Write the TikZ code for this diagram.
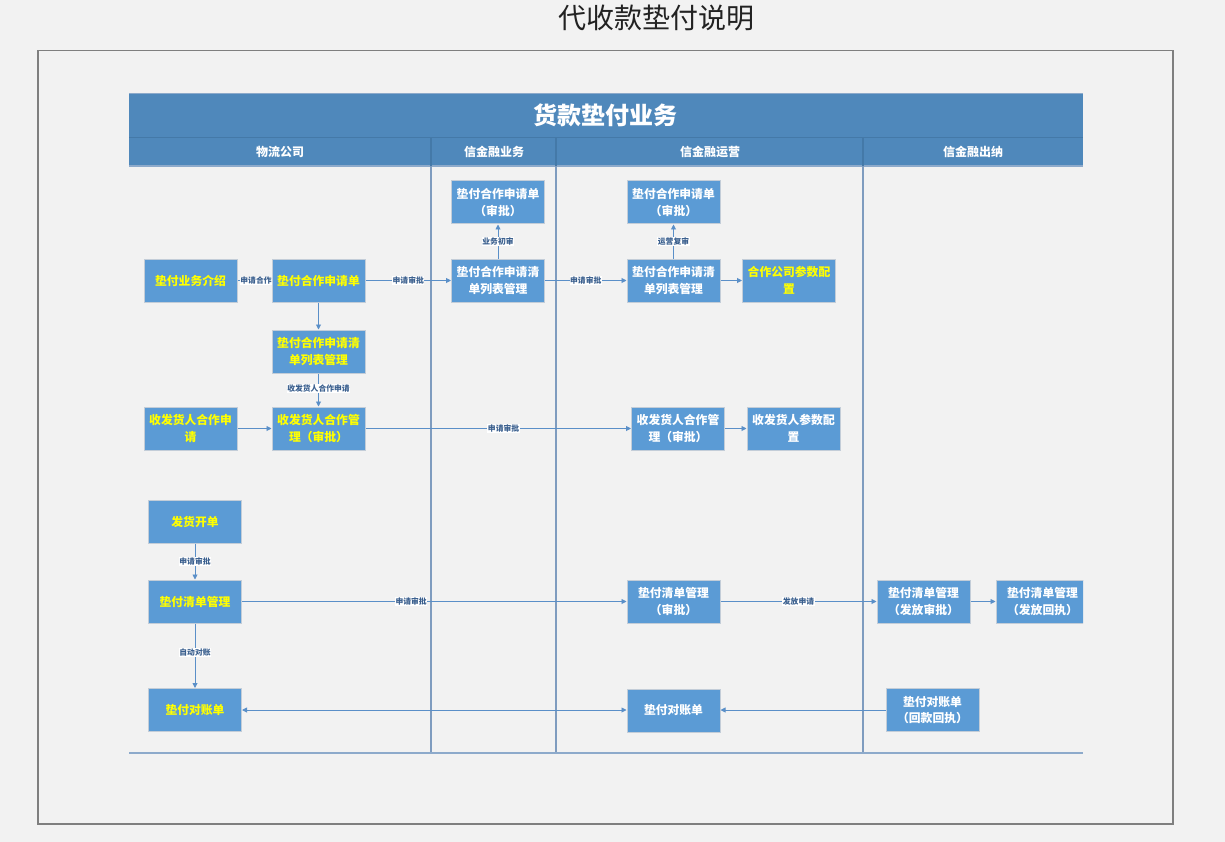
\documentclass[tikz,border=0pt]{standalone}
\usepackage{fontspec}
\newfontfamily\cjk{Noto Sans CJK SC}
\usetikzlibrary{arrows.meta}
\definecolor{bg}{HTML}{F2F2F2}
\definecolor{hdr}{HTML}{4F88BB}
\definecolor{hdrline}{HTML}{4479A8}
\definecolor{hdredge}{HTML}{8DAACB}
\definecolor{boxc}{HTML}{5B9BD5}
\definecolor{boxb}{HTML}{C3CDD8}
\definecolor{lane}{HTML}{7F9CBF}
\definecolor{arr}{HTML}{5A8FC8}
\definecolor{lbl}{HTML}{3A5F8E}
\definecolor{ylw}{HTML}{FFFF00}
\definecolor{frame}{HTML}{7F7F7F}
\definecolor{ttl}{HTML}{222222}
\tikzset{
 box/.style={draw=boxb, fill=boxc, line width=1pt, minimum width=93pt, minimum height=43pt, inner sep=1pt, align=center, font=\cjk\bfseries\fontsize{11.8}{16.5}\selectfont, text=white},
 ybox/.style={box, text=ylw},
 flow/.style={draw=arr, line width=0.9pt, -{Triangle[length=5pt,width=5pt]}},
 biflow/.style={draw=arr, line width=0.9pt, {Triangle[length=5pt,width=5pt]}-{Triangle[length=5pt,width=5pt]}},
 lab/.style={fill=white, inner sep=0.6pt, font=\cjk\bfseries\fontsize{7.8}{8}\selectfont, text=lbl},
 lanel/.style={draw=lane, line width=1.6pt},
 hdrtext/.style={font=\cjk\bfseries\fontsize{12}{13}\selectfont, text=white},
}
\begin{document}
\begin{tikzpicture}[x=1pt,y=-1pt]
\fill[bg] (0,0) rectangle (1225,842);
\useasboundingbox (0,0) rectangle (1225,842);
\draw[frame, line width=1.3pt] (38,50.5) rectangle (1173,824);
\node[font=\cjk\fontsize{28}{30}\selectfont, text=ttl] (title) at (656,18) {代收款垫付说明};
% header
\fill[hdr] (129,93) rectangle (1083,166);
\draw[hdredge, line width=1.2pt] (129,93.5) -- (1083,93.5);
\draw[hdrline, line width=1.6pt] (129,137.5) -- (1083,137.5);
\draw[hdredge, line width=1.2pt] (129,166) -- (1083,166);
\node[font=\cjk\bfseries\fontsize{24}{26}\selectfont, text=white] (htitle) at (605,115) {货款垫付业务};
\node[hdrtext] (l1) at (280,152) {物流公司};
\node[hdrtext] (l2) at (494,152) {信金融业务};
\node[hdrtext] (l3) at (710,152) {信金融运营};
\node[hdrtext] (l4) at (973,152) {信金融出纳};
% lanes
\foreach \xx in {431,556,863}{
  \draw[hdrline, line width=1.4pt] (\xx,138) -- (\xx,166);
  \draw[lanel] (\xx,166) -- (\xx,753);
}
\draw[hdredge, line width=2pt] (129,753) -- (1083,753);
% nodes
\node[ybox] (n1) at (190.5,280.5) {垫付业务介绍};
\node[ybox] (n2) at (318.5,280.5) {垫付合作申请单};
\node[ybox] (n3) at (318.5,351.5) {垫付合作申请清\\单列表管理};
\node[ybox] (n4) at (190.5,428.5) {收发货人合作申\\请};
\node[ybox] (n5) at (318.5,428.5) {收发货人合作管\\理（审批）};
\node[box] (b1) at (498,202.5) {垫付合作申请单\\（审批）};
\node[box] (b2) at (498,280.5) {垫付合作申请清\\单列表管理};
\node[box] (o1) at (673.5,202.5) {垫付合作申请单\\（审批）};
\node[box] (o2) at (673.5,280.5) {垫付合作申请清\\单列表管理};
\node[ybox] (o3) at (789,280.5) {合作公司参数配\\置};
\node[box] (o4) at (678,428.5) {收发货人合作管\\理（审批）};
\node[box] (o5) at (793.5,428.5) {收发货人参数配\\置};
\node[ybox] (m1) at (195,521.5) {发货开单};
\node[ybox] (m2) at (195,601.5) {垫付清单管理};
\node[ybox] (m3) at (195,710) {垫付对账单};
\node[box] (p1) at (673.5,601.5) {垫付清单管理\\（审批）};
\node[box] (p2) at (673.5,710.5) {垫付对账单};
\node[box] (c1) at (923.5,601.5) {垫付清单管理\\（发放审批）};
\begin{scope}
\clip (990,570) rectangle (1083,640);
\node[box] (c2) at (1042.5,601.5) {垫付清单管理\\（发放回执）};
\end{scope}
\node[box] (c3) at (932.5,710) {垫付对账单\\（回款回执）};
% connectors
\draw[flow] (n1) -- (n2);
\node[lab] (t1) at (256,281) {申请合作};
\draw[flow] (n2) -- node[lab, pos=0.5] (t2) {申请审批} (b2);
\draw[flow] (n2) -- (n3);
\draw[flow] (n3) -- node[lab, pos=0.45] (t3) {收发货人合作申请} (n5);
\draw[flow] (n4) -- (n5);
\draw[flow] (n5) -- node[lab, pos=0.52] (t4) {申请审批} (o4);
\draw[flow] (o4) -- (o5);
\draw[flow] (b2) -- node[lab, pos=0.5] (t5) {业务初审} (b1);
\draw[flow] (b2) -- node[lab, pos=0.5] (t6) {申请审批} (o2);
\draw[flow] (o2) -- node[lab, pos=0.5] (t7) {运营复审} (o1);
\draw[flow] (o2) -- (o3);
\draw[flow] (m1) -- node[lab, pos=0.5] (t8) {申请审批} (m2);
\draw[flow] (m2) -- node[lab, pos=0.44] (t9) {申请审批} (p1);
\draw[flow] (p1) -- node[lab, pos=0.5] (t10) {发放申请} (c1);
\draw[flow] (c1) -- (c2.west);
\draw[flow] (m2) -- node[lab, pos=0.45] (t11) {自动对账} (m3);
\draw[biflow] (m3.east) -- (m3.east -| p2.west);
\draw[flow] (c3.west) -- (c3.west -| p2.east);
\end{tikzpicture}
\end{document}
